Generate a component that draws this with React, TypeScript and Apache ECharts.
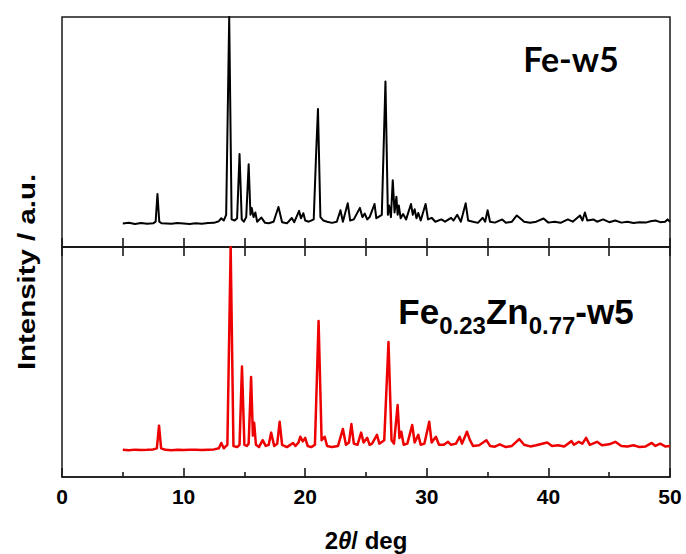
import React, { useEffect, useRef } from "react";
import * as echarts from "echarts";

// Fe-w5 powder pattern (2θ in degrees, relative intensity)
const feW5Angles = [
  5.0, 5.5, 6.0, 6.5, 7.0, 7.5, 7.7, 7.85, 8.0, 8.2, 9.0, 9.5, 10.0, 10.5, 11.0, 11.5, 12.0, 12.5,
  12.9, 13.1, 13.3, 13.5, 13.75, 13.95, 14.2, 14.4, 14.6, 14.78, 14.95, 15.15, 15.35, 15.5, 15.6,
  15.75, 15.9, 16.05, 16.4, 16.7, 17.0, 17.4, 17.8, 18.1, 18.5, 18.9, 19.1, 19.5, 19.65, 19.85,
  20.0, 20.3, 20.7, 20.9, 21.05, 21.25, 21.5, 21.8, 22.2, 22.6, 22.9, 23.1, 23.5, 23.7, 24.0, 24.5,
  24.7, 24.9, 25.1, 25.3, 25.7, 25.85, 26.0, 26.3, 26.6, 26.8, 26.9, 27.05, 27.2, 27.35, 27.5,
  27.6, 27.7, 27.85, 28.05, 28.3, 28.7, 28.85, 29.0, 29.15, 29.3, 29.5, 29.9, 30.1, 30.4, 30.7,
  31.2, 31.5, 32.0, 32.2, 32.5, 32.8, 33.2, 33.4, 33.8, 34.2, 34.6, 34.8, 35.0, 35.2, 35.6, 36.2,
  36.5, 37.0, 37.4, 37.7, 38.0, 38.5, 39.0, 39.6, 40.0, 40.5, 41.0, 41.6, 42.0, 42.6, 42.8, 43.0,
  43.2, 43.7, 44.0, 44.5, 45.0, 45.5, 46.0, 46.5, 47.0, 47.5, 48.0, 48.4, 48.8, 49.2, 49.6, 49.8, 50.0,
];
const feW5Intensity = [
  10.2, 10.5, 10.0, 10.4, 10.1, 10.3, 11, 23, 11, 10.3, 10.1, 10.4, 10.2, 10.0, 10.3, 10.1, 10.4, 10.5,
  11.2, 12.5, 11.5, 14, 100, 12, 11.5, 12.5, 40.4, 12, 11, 13, 36, 14, 17,
  13, 15, 11, 12.8, 10.5, 10.3, 11, 17.4, 10.8, 10.3, 12.6, 10.8, 15.7, 12.5, 14.7,
  11.5, 11, 12, 40.8, 60, 13, 11.5, 11, 10.5, 11, 16, 11, 19, 11.5, 12, 17,
  13, 14.5, 12, 13, 18.7, 12.5, 13, 14, 72, 14, 18, 13, 29, 15, 21.8,
  14, 18, 12.5, 14.3, 12, 18.7, 14, 16.4, 12.5, 14.8, 11.5, 18.7, 12, 12.7, 11,
  12, 11, 12.7, 11.5, 14, 11, 19, 11.5, 11, 10.5, 12.7, 11, 16, 11, 10.6, 12,
  10.5, 11, 13.7, 12.4, 11, 10.5, 11, 12.4, 10.6, 11, 10.5, 12, 11, 13.7, 11.5, 15,
  11.5, 12, 11, 12, 10.8, 11.5, 10.6, 11, 10.4, 10.8, 10.6, 11.2, 11.5, 10.8, 11, 12, 11,
];

// Fe0.23Zn0.77-w5 powder pattern
const feZnW5Angles = [
  5.0, 5.5, 6.0, 6.5, 7.0, 7.5, 7.8, 7.98, 8.15, 8.5, 9.0, 9.5, 10.0, 10.5, 11.0, 11.5, 12.0, 12.5,
  12.9, 13.1, 13.3, 13.6, 13.87, 14.1, 14.4, 14.6, 14.8, 15.0, 15.2, 15.35, 15.55, 15.7, 15.8,
  15.95, 16.2, 16.5, 16.75, 17.0, 17.2, 17.45, 17.7, 17.9, 18.1, 18.5, 19.0, 19.2, 19.45, 19.6,
  19.8, 20.0, 20.2, 20.5, 20.8, 21.1, 21.35, 21.6, 21.8, 22.2, 22.7, 23.1, 23.35, 23.6, 23.8, 24.0,
  24.3, 24.6, 24.8, 25.1, 25.3, 25.5, 25.9, 26.1, 26.5, 26.85, 27.1, 27.3, 27.6, 27.75, 27.9, 28.1,
  28.4, 28.8, 29.0, 29.3, 29.5, 29.8, 30.2, 30.4, 30.75, 31.0, 31.4, 31.75, 32.0, 32.4, 32.7, 32.9,
  33.3, 33.55, 33.8, 34.3, 34.9, 35.2, 35.6, 36.0, 36.5, 37.0, 37.6, 38.0, 38.5, 39.0, 39.9, 40.3,
  40.8, 41.3, 41.9, 42.1, 42.5, 42.8, 43.1, 43.4, 44.0, 44.4, 45.0, 45.5, 46.0, 46.5, 47.0, 47.5,
  48.0, 48.5, 48.8, 49.2, 49.6, 50.0,
];
const feZnW5Intensity = [
  11.8, 11.6, 11.9, 11.7, 11.8, 12, 12.5, 22.3, 12.5, 11.8, 11.6, 11.8, 11.7, 11.9, 11.8, 11.7, 11.9, 12,
  12.5, 14.8, 12.5, 14, 100, 13.5, 13, 14, 48, 14, 13.5, 14.5, 43.5, 18, 23.6,
  14, 13, 16, 13.5, 14, 19.3, 13.5, 14.5, 24, 14, 13, 14.8, 13.5, 15, 17.5,
  15.5, 17, 13.5, 13, 14, 67.8, 16, 17.5, 13.5, 13, 13.5, 20.9, 14, 15, 23, 14.5,
  14, 19.3, 15, 17, 14, 14.5, 18.3, 14.5, 16, 58.7, 16, 14.5, 31.3, 17, 19.7, 14,
  14.5, 22.6, 15, 18.3, 14, 14.5, 24, 15, 17.5, 14, 14, 15.3, 14, 14.5, 17.5, 14.5,
  19.7, 16, 13.5, 13.8, 16, 13.5, 13.2, 14.2, 13, 13.5, 16.5, 14, 13.3, 13.8, 15, 13.5,
  13.8, 13.3, 15.6, 14, 15.3, 14.5, 17, 14, 15.3, 13.8, 14.2, 15.3, 13.5, 13.3, 13.8, 13,
  13.3, 14.8, 13.5, 14.5, 13.3, 13.5,
];

const xTickLabels = ["0", "10", "20", "30", "40", "50"];

const pairs = (xs: number[], ys: number[]) => xs.map((x, i) => [x, ys[i]]);

const AXIS_COLOR = "#1a1a1a";
const SANS = "'Liberation Sans', Arial, Helvetica, sans-serif";

export default function App() {
  const ref = useRef<HTMLDivElement>(null);

  useEffect(() => {
    if (!ref.current) return;
    const chart = echarts.init(ref.current, undefined, { renderer: "svg" });

    const gridLeft = 62;
    const gridWidth = 608;
    const panelHeight = 230;

    const innerTick = (len: number) => ({
      show: true,
      inside: true,
      length: len,
      lineStyle: { color: AXIS_COLOR, width: 1.6 },
    });
    const frameLine = {
      show: true,
      onZero: false,
      lineStyle: { color: AXIS_COLOR, width: 1.5 },
    };

    chart.setOption({
      animation: false,
      backgroundColor: "#ffffff",
      grid: [
        {
          left: gridLeft,
          top: 17,
          width: gridWidth,
          height: panelHeight,
          outerBoundsMode: "none",
          containLabel: false,
          show: true,
          borderColor: AXIS_COLOR,
          borderWidth: 1.5,
          backgroundColor: "transparent",
        },
        {
          left: gridLeft,
          top: 17 + panelHeight,
          width: gridWidth,
          height: panelHeight,
          outerBoundsMode: "none",
          containLabel: false,
          show: true,
          borderColor: AXIS_COLOR,
          borderWidth: 1.5,
          backgroundColor: "transparent",
        },
      ],
      xAxis: [
        {
          type: "value",
          gridIndex: 0,
          position: "bottom",
          min: 0,
          max: 50,
          interval: 5,
          axisLine: frameLine,
          axisTick: innerTick(9),
          axisLabel: { show: false },
          splitLine: { show: false },
        },
        {
          type: "value",
          gridIndex: 1,
          position: "top",
          min: 0,
          max: 50,
          interval: 5,
          axisLine: frameLine,
          axisTick: innerTick(9),
          axisLabel: { show: false },
          splitLine: { show: false },
        },
        {
          type: "value",
          gridIndex: 1,
          position: "bottom",
          min: 0,
          max: 50,
          interval: 10,
          axisLine: frameLine,
          axisTick: innerTick(9),
          minorTick: {
            show: true,
            splitNumber: 2,
            length: 5,
            lineStyle: { color: AXIS_COLOR, width: 1.6 },
          },
          axisLabel: {
            show: true,
            margin: 9,
            color: "#000",
            fontFamily: SANS,
            fontWeight: "bold",
            fontSize: 21,
            formatter: (v: number) => xTickLabels[Math.round(v / 10)] ?? "",
          },
          splitLine: { show: false },
          minorSplitLine: { show: false },
          name: "{n|2}{t|θ}{n|/ deg}",
          nameLocation: "middle",
          nameGap: 51,
          nameTextStyle: {
            rich: {
              n: { fontFamily: SANS, fontWeight: "bold", fontSize: 24, color: "#000" },
              t: {
                fontFamily: SANS,
                fontWeight: "bold",
                fontStyle: "italic",
                fontSize: 24,
                color: "#000",
              },
            },
          },
        },
      ],
      yAxis: [
        { type: "value", gridIndex: 0, min: 0, max: 100, show: false },
        { type: "value", gridIndex: 1, min: 0, max: 100, show: false },
      ],
      series: [
        {
          name: "Fe-w5",
          type: "line",
          xAxisIndex: 0,
          yAxisIndex: 0,
          data: pairs(feW5Angles, feW5Intensity),
          showSymbol: false,
          symbol: "none",
          clip: true,
          lineStyle: { color: "#000000", width: 2, join: "round" },
        },
        {
          name: "Fe0.23Zn0.77-w5",
          type: "line",
          xAxisIndex: 2,
          yAxisIndex: 1,
          data: pairs(feZnW5Angles, feZnW5Intensity),
          showSymbol: false,
          symbol: "none",
          clip: true,
          lineStyle: { color: "#ee0000", width: 2.5, join: "round" },
        },
      ],
      graphic: [
        {
          type: "text",
          x: 27,
          y: 272,
          rotation: Math.PI / 2,
          scaleX: 1.28,
          style: {
            text: "Intensity / a.u.",
            fill: "#000",
            font: `bold 23px ${SANS}`,
            align: "center",
            verticalAlign: "middle",
          },
        },
        {
          type: "text",
          x: 571,
          y: 58,
          style: {
            text: "Fe-w5",
            fill: "#000",
            font: "bold 34px Lato, 'Open Sans', sans-serif",
            align: "center",
            verticalAlign: "middle",
          },
        },
        {
          type: "text",
          x: 516,
          y: 309,
          style: {
            text: "{m|Fe}{s|0.23}{m|Zn}{s|0.77}{m|-w5}",
            align: "center",
            verticalAlign: "middle",
            rich: {
              m: {
                fontFamily: SANS,
                fontWeight: "bold",
                fontSize: 35,
                fill: "#000",
                verticalAlign: "bottom",
                lineHeight: 40,
              },
              s: {
                fontFamily: SANS,
                fontWeight: "bold",
                fontSize: 24,
                fill: "#000",
                verticalAlign: "bottom",
                lineHeight: 28,
                padding: [0, 0, -8, 0],
              },
            },
          },
        },
      ],
    });

    return () => chart.dispose();
  }, []);

  return (
    <div
      ref={ref}
      style={{ position: "fixed", left: 0, top: 0, width: 686, height: 554, background: "#fff" }}
    />
  );
}
